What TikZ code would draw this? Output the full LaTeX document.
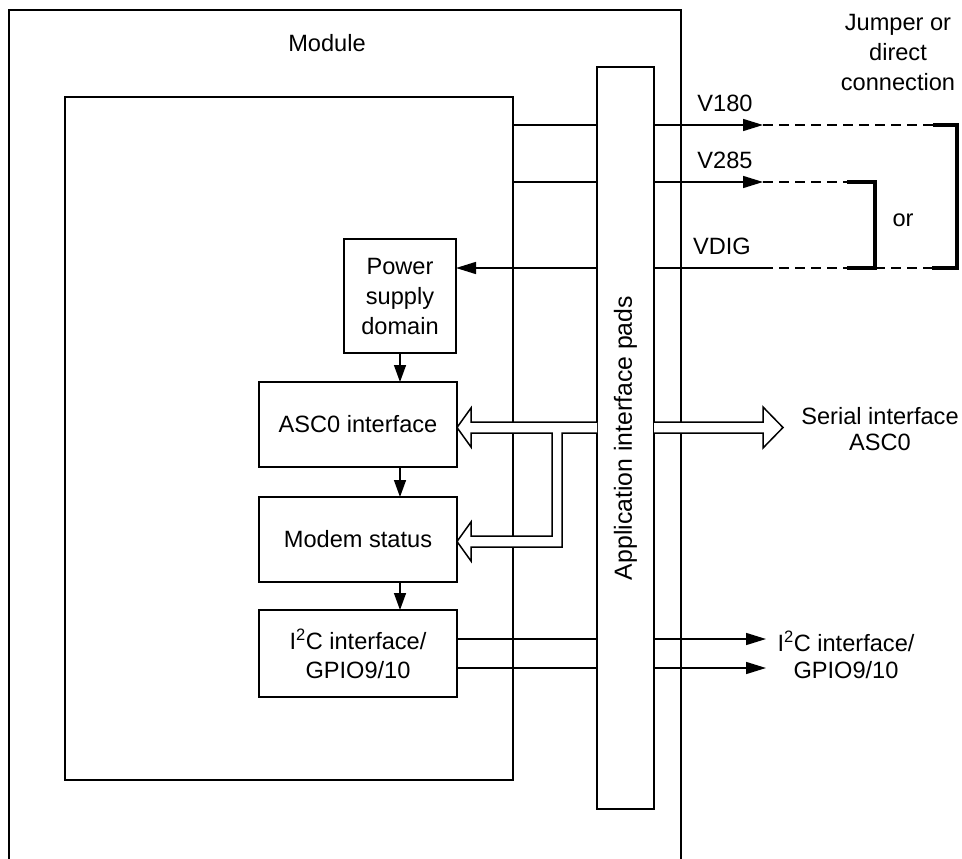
\documentclass[tikz,border=0pt]{standalone}
\usepackage{fontspec}
\setmainfont{Liberation Sans}
\usetikzlibrary{arrows.meta,calc}
\begin{document}
\begin{tikzpicture}[x=1pt,y=-1pt,
  every node/.style={font=\fontsize{23.6}{28}\selectfont, inner sep=0pt, outer sep=0pt},
  ln/.style={line width=1.5pt},
  blk/.style={draw, line width=1.5pt, align=center, fill=white},
  arr/.style={ln, -{Triangle[length=20pt,width=12pt]}},
  sarr/.style={ln, -{Triangle[length=17pt,width=12pt]}},
  jump/.style={line width=4pt, line cap=butt, line join=miter},
  dsh/.style={ln, dash pattern=on 10pt off 6pt},
  bus/.style={ln, fill=white, line join=miter}
]
\useasboundingbox (0,0) rectangle (962,859);

% outer module (open at bottom)
\coordinate (obl) at (9,862);
\coordinate (otl) at (9,10);
\coordinate (otr) at (681,10);
\coordinate (obr) at (681,862);
\draw[ln] (obl) -- (otl) -- (otr) -- (obr);
\node (module) at (327,43) {Module};

% inner box
\node[draw, ln, minimum width=448pt, minimum height=683pt] (inner) at (289,438.5) {};

% function blocks
\node[blk, minimum width=112pt, minimum height=114pt, font=\fontsize{23.6}{30}\selectfont] (psd) at (400,296) {Power\\supply\\domain};
\node[blk, minimum width=198pt, minimum height=85pt] (asc) at (358,424.5) {ASC0 interface};
\node[blk, minimum width=198pt, minimum height=85pt] (modem) at (358,539.5) {Modem status};
\node[blk, minimum width=198pt, minimum height=87pt, font=\fontsize{23.6}{29}\selectfont] (i2c) at (358,653.5) {I\textsuperscript{2}C interface/\\GPIO9/10};

% block arrows
\draw[sarr] (psd.south) -- (psd.south |- asc.north);
\draw[sarr] (psd.south |- asc.south) -- (psd.south |- modem.north);
\draw[sarr] (psd.south |- modem.south) -- (psd.south |- i2c.north);

% row coordinates
\coordinate (r180) at (0,125);
\coordinate (r285) at (0,182);
\coordinate (rvd) at (0,268);
\coordinate (ri1) at (0,639);
\coordinate (ri2) at (0,668);
\coordinate (t180) at (763,125);
\coordinate (t285) at (763,182);
\coordinate (tvd) at (763,268);
\coordinate (ti1) at (766,639);
\coordinate (ti2) at (766,668);
\coordinate (j1a) at (933,125);
\coordinate (j1b) at (957,125);
\coordinate (j1c) at (957,268);
\coordinate (j1d) at (932,268);
\coordinate (j2a) at (847,182);
\coordinate (j2b) at (875,182);
\coordinate (j2c) at (875,268);
\coordinate (j2d) at (847,268);

% pads
\node[draw, ln, fill=white, minimum width=57pt, minimum height=742pt] (pad) at (625.5,438) {};
\node[rotate=90, font=\fontsize{24.8}{28}\selectfont] (padtxt) at (pad.center) {Application interface pads};

% V180
\draw[ln] (inner.east |- r180) -- (pad.west |- r180);
\draw[arr] (pad.east |- r180) -- (t180);
\draw[dsh] (t180) -- (j1a);
\draw[jump] (j1a) -- (j1b) -- (j1c) -- (j1d);
\node (l180) at (725,103) {V180};

% V285
\draw[ln] (inner.east |- r285) -- (pad.west |- r285);
\draw[arr] (pad.east |- r285) -- (t285);
\draw[dsh] (t285) -- (j2a);
\draw[jump] (j2a) -- (j2b) -- (j2c) -- (j2d);
\node (l285) at (725,160) {V285};

% VDIG
\draw[arr] (pad.west |- rvd) -- (psd.east |- rvd);
\draw[ln] (pad.east |- rvd) -- (tvd);
\draw[dsh] (tvd) -- (j2d);
\draw[dsh] (j2c) -- (j1d);
\node (lvd) at (722,246) {VDIG};
\node (lor) at (903,220) {or};
\node[align=center, font=\fontsize{23.6}{30}\selectfont] (jtxt) at (898,52) {Jumper or\\direct\\connection};

% I2C lines
\draw[ln] (i2c.east |- ri1) -- (pad.west |- ri1);
\draw[ln] (i2c.east |- ri2) -- (pad.west |- ri2);
\draw[arr] (pad.east |- ri1) -- (ti1);
\draw[arr] (pad.east |- ri2) -- (ti2);
\node[align=center, font=\fontsize{23.6}{27}\selectfont] (li2c) at (846,655) {I\textsuperscript{2}C interface/\\GPIO9/10};

% ASC0 bus (hollow arrows)
\draw[bus] (pad.west |- 0,422) -- (471,422) -- (471,408) -- (asc.east |- 0,427.5) -- (471,447) -- (471,433)
  -- (552,433) -- (552,536) -- (471,536) -- (471,522) -- (modem.east |- 0,541.5) -- (471,561) -- (471,547)
  -- (562,547) -- (562,433) -- (pad.west |- 0,433);
\draw[bus] (pad.east |- 0,422) -- (763,422) -- (763,407) -- (783,427.5) -- (763,448) -- (763,433) -- (pad.east |- 0,433);
\node[align=center, font=\fontsize{23.6}{26}\selectfont] (lser) at (880,429) {Serial interface\\ASC0};

\end{tikzpicture}
\end{document}
